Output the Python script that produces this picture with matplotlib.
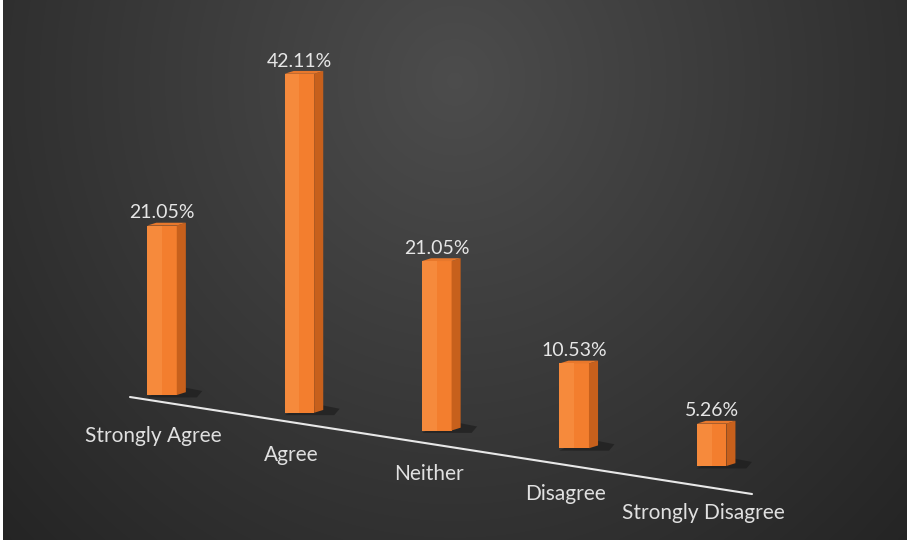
import numpy as np
import matplotlib
matplotlib.use("Agg")
import matplotlib.pyplot as plt
from matplotlib.patches import Polygon

categories = ["Strongly Agree", "Agree", "Neither", "Disagree", "Strongly Disagree"]
values = [21.05, 42.11, 21.05, 10.53, 5.26]
value_labels = ["21.05%", "42.11%", "21.05%", "10.53%", "5.26%"]

plt.rcParams['font.family'] = ['Lato', 'DejaVu Sans']

W, H = 907, 543
fig = plt.figure(figsize=(W / 100, H / 100), dpi=100)
fig.patch.set_facecolor("white")

# background gradient
bg = fig.add_axes([0.0035, 0.0055, 0.9965, 0.9945])
yy, xx = np.mgrid[0:1:300j, 0:1:500j]
r = np.sqrt(((xx - 0.5) / 0.62) ** 2 + ((yy - 0.15) / 1.1) ** 2)
g = 0.30 - 0.14 * np.clip(r, 0, 1.2)
bg.imshow(np.dstack([g, g, g]), aspect="auto", extent=[0, 1, 1, 0], interpolation="bilinear")
bg.set_axis_off()

ax = fig.add_axes([0, 0, 1, 1])
ax.set_facecolor("none")
px_x0, px_dx = 162.0, 137.4  # pixel x of first bar centre, spacing
px_base, px_per = 395.0, 8.05  # pixel y of first baseline, pixels per percent
ax.set_xlim(-px_x0 / px_dx, (W - px_x0) / px_dx)
ax.set_ylim((px_base - H) / px_per, px_base / px_per)
ax.set_axis_off()

n = len(categories)
x = np.arange(n)
step = -17.75 / px_per
bottoms = step * x
front_w = 0.215
dx, dy = 0.066, 0.35

ax.bar(x, values, width=front_w, bottom=bottoms, color="#F37E2E", zorder=3, linewidth=0)
for xi, b, v in zip(x, bottoms, values):
    xl, xr = xi - front_w / 2, xi + front_w / 2
    t = b + v
    # shadow
    ax.add_patch(Polygon([(xl, b - 0.3), (xr + dx + 0.08, b - 0.3), (xr + dx + 0.12, b + 0.5),
                          (xr + dx, b + 0.9), (xl + 0.1, b + 0.6)],
                         closed=True, facecolor="#1a1a1a", alpha=0.6, edgecolor="none", zorder=2))
    ax.add_patch(Polygon([(xr, b), (xr + dx, b + dy), (xr + dx, t + dy), (xr, t)],
                         closed=True, facecolor="#C7601C", edgecolor="none", zorder=3))
    ax.add_patch(Polygon([(xl, t), (xr, t), (xr + dx, t + dy), (xl + dx, t + dy)],
                         closed=True, facecolor="#E8782C", edgecolor="none", zorder=3))
    ax.bar([xi - front_w / 4], [v], width=front_w / 2, bottom=[b], color="#F68A3C", zorder=3, linewidth=0)

for xi, b, v, lab in zip(x, bottoms, values, value_labels):
    ax.annotate(lab, (xi, b + v), xytext=(0, 3), textcoords="offset points",
                ha="center", va="bottom", color="#E6E6E6", fontsize=14, zorder=5)

# floor line
lx = np.array([(130 - px_x0) / px_dx, (752 - px_x0) / px_dx])
ly = np.array([-0.25, -12.3])
ax.plot(lx, ly, color="#E8E8E8", lw=1.5, zorder=4, solid_capstyle="round")

for xi, cat in zip(x, categories):
    ax.text(xi - 0.06, -5.1 - 2.385 * xi, cat, ha="center", va="center",
            color="#E0E0E0", fontsize=15, zorder=5)

fig.savefig("out.png", dpi=100, facecolor=fig.get_facecolor())
